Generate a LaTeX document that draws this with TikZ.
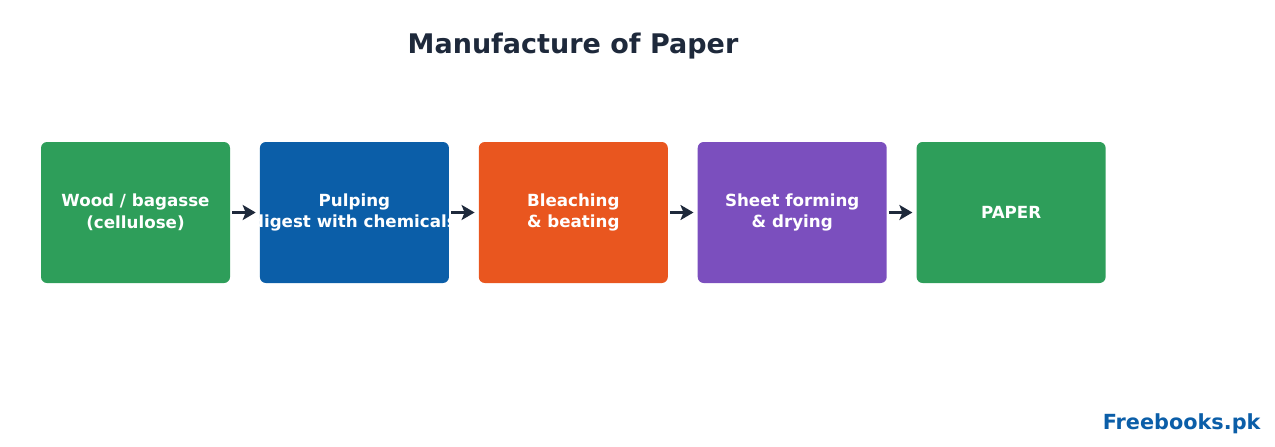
\documentclass[tikz,border=0pt]{standalone}
\usepackage{fontspec}
\setmainfont{DejaVu Sans}
\usetikzlibrary{positioning,arrows.meta}
\definecolor{ink}{HTML}{1E293B}
\definecolor{leafgreen}{HTML}{2E9E5A}
\definecolor{pulpblue}{HTML}{0B5EA8}
\definecolor{bleachorange}{HTML}{E9561F}
\definecolor{sheetpurple}{HTML}{7B4FBE}
\begin{document}
\begin{tikzpicture}[x=1pt,y=1pt,node distance=29.5pt,
    font=\bfseries\fontsize{16.7}{21.5}\selectfont]
  \tikzset{
    box/.style={rounded corners=6pt,minimum width=189pt,minimum height=141pt,
      inner sep=0pt,align=center,text=white},
    flow/.style={draw=ink,line width=3pt,-{Stealth[length=13pt,width=15pt,inset=3pt]},
      shorten <=2pt,shorten >=4pt}
  }
  \useasboundingbox (0,0) rectangle (1275,-447);
  \node[text=ink,font=\bfseries\fontsize{27}{31}\selectfont] (title) at (573,-46) {Manufacture of Paper};
  \node[box,fill=leafgreen] (wood) at (135.5,-212.5) {Wood / bagasse\\(cellulose)};
  \node[box,fill=pulpblue,right=of wood] (pulping) {Pulping\\\makebox[0pt]{(digest with chemicals)}};
  \node[box,fill=bleachorange,right=of pulping] (bleach) {Bleaching\\\& beating};
  \node[box,fill=sheetpurple,right=of bleach] (sheet) {Sheet forming\\\& drying};
  \node[box,fill=leafgreen,right=of sheet] (paper) {PAPER};
  \draw[flow] (wood) -- (pulping);
  \draw[flow] (pulping) -- (bleach);
  \draw[flow] (bleach) -- (sheet);
  \draw[flow] (sheet) -- (paper);
  \node[text=pulpblue,font=\bfseries\fontsize{20.8}{24}\selectfont,anchor=south east] (mark) at (1264,-437) {Freebooks.pk};
\end{tikzpicture}
\end{document}
